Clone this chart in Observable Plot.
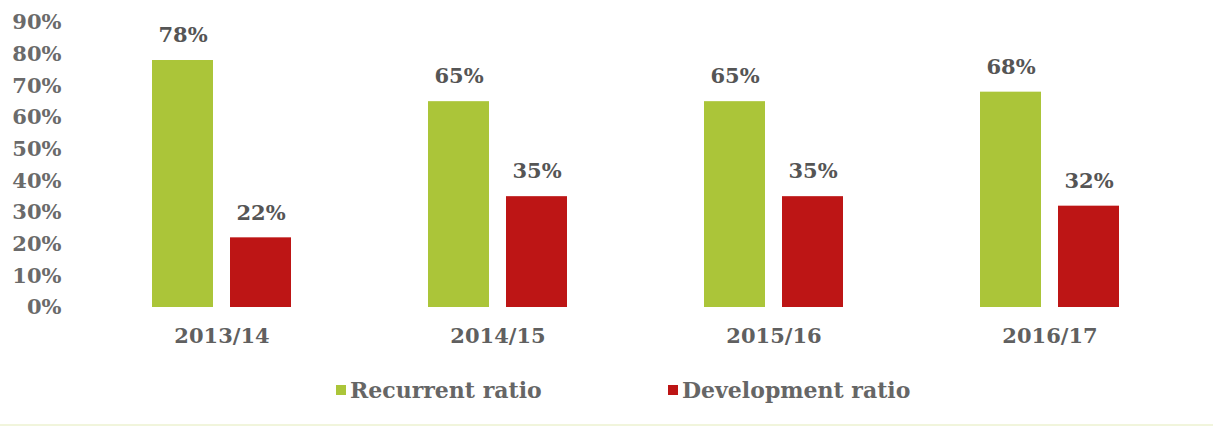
<!DOCTYPE html>
<html>
<head>
<meta charset="utf-8">
<script src="https://cdn.jsdelivr.net/npm/d3@7"></script>
<script src="https://cdn.jsdelivr.net/npm/@observablehq/plot@0.6"></script>
<style>
  html, body { margin: 0; padding: 0; background: #fff; }
  #wrap { position: relative; width: 1213px; height: 430px; overflow: hidden; }
  #legend { position: absolute; top: 372px; left: 0; width: 1213px; height: 36px; font-family: "DejaVu Serif", serif; font-weight: bold; font-size: 22px; color: #666; }
  .item { position: absolute; top: 0; display: flex; align-items: center; height: 36px; }
  .sw { width: 10px; height: 10px; margin-right: 4px; }
  #rule { position: absolute; top: 424px; left: 0; width: 1213px; height: 2px; background: #f1f5dc; }
</style>
</head>
<body>
<div id="wrap">
  <div id="chart"></div>
  <div id="legend"></div>
  <div id="rule"></div>
</div>
<script>
const years = ["2013/14", "2014/15", "2015/16", "2016/17"];
const seriesNames = ["Recurrent ratio", "Development ratio"];
const recurrent = [78, 65, 65, 68];
const development = [22, 35, 35, 32];
const yTicks = [0, 10, 20, 30, 40, 50, 60, 70, 80, 90];
const colors = ["#abc539", "#bd1515"];

const data = years.flatMap((yr, i) => [
  {year: yr, series: seriesNames[0], value: recurrent[i]},
  {year: yr, series: seriesNames[1], value: development[i]}
]);
const rec = data.filter(d => d.series === seriesNames[0]);
const dev = data.filter(d => d.series === seriesNames[1]);

const font = "'DejaVu Serif', serif";

const chart = Plot.plot({
  width: 1213,
  height: 355,
  marginTop: 22,
  marginBottom: 48,
  marginLeft: 70,
  marginRight: 11,
  style: {fontFamily: font, fontWeight: "bold", color: "#6a6a6a", background: "#fff"},
  x: {domain: years, paddingInner: 0.4946, paddingOuter: 0.2924, label: null},
  y: {domain: [0, 90], label: null},
  color: {domain: seriesNames, range: colors},
  marks: [
    Plot.barY(rec, {x: "year", y: "value", fill: "series", insetRight: 78}),
    Plot.barY(dev, {x: "year", y: "value", fill: "series", insetLeft: 78}),
    Plot.text(rec, {x: "year", y: "value", text: d => d.value + "%", dx: -39, dy: -25, fontSize: 21, fill: "#555", fontWeight: "bold"}),
    Plot.text(dev, {x: "year", y: "value", text: d => d.value + "%", dx: 39, dy: -25, fontSize: 21, fill: "#555", fontWeight: "bold"}),
    Plot.axisY({ticks: yTicks, tickFormat: d => d + "%", tickSize: 0, tickPadding: 9, fontSize: 21, label: null}),
    Plot.axisX({tickSize: 0, tickPadding: 21, fontSize: 21, label: null, fill: "#606060"})
  ]
});
document.getElementById("chart").appendChild(chart);

const legend = document.getElementById("legend");
const lx = [336, 668];
seriesNames.forEach((name, i) => {
  const it = document.createElement("div");
  it.className = "item";
  it.style.left = lx[i] + "px";
  const sw = document.createElement("div");
  sw.className = "sw";
  sw.style.background = colors[i];
  const t = document.createElement("span");
  t.textContent = name;
  it.appendChild(sw);
  it.appendChild(t);
  legend.appendChild(it);
});
</script>
</body>
</html>
